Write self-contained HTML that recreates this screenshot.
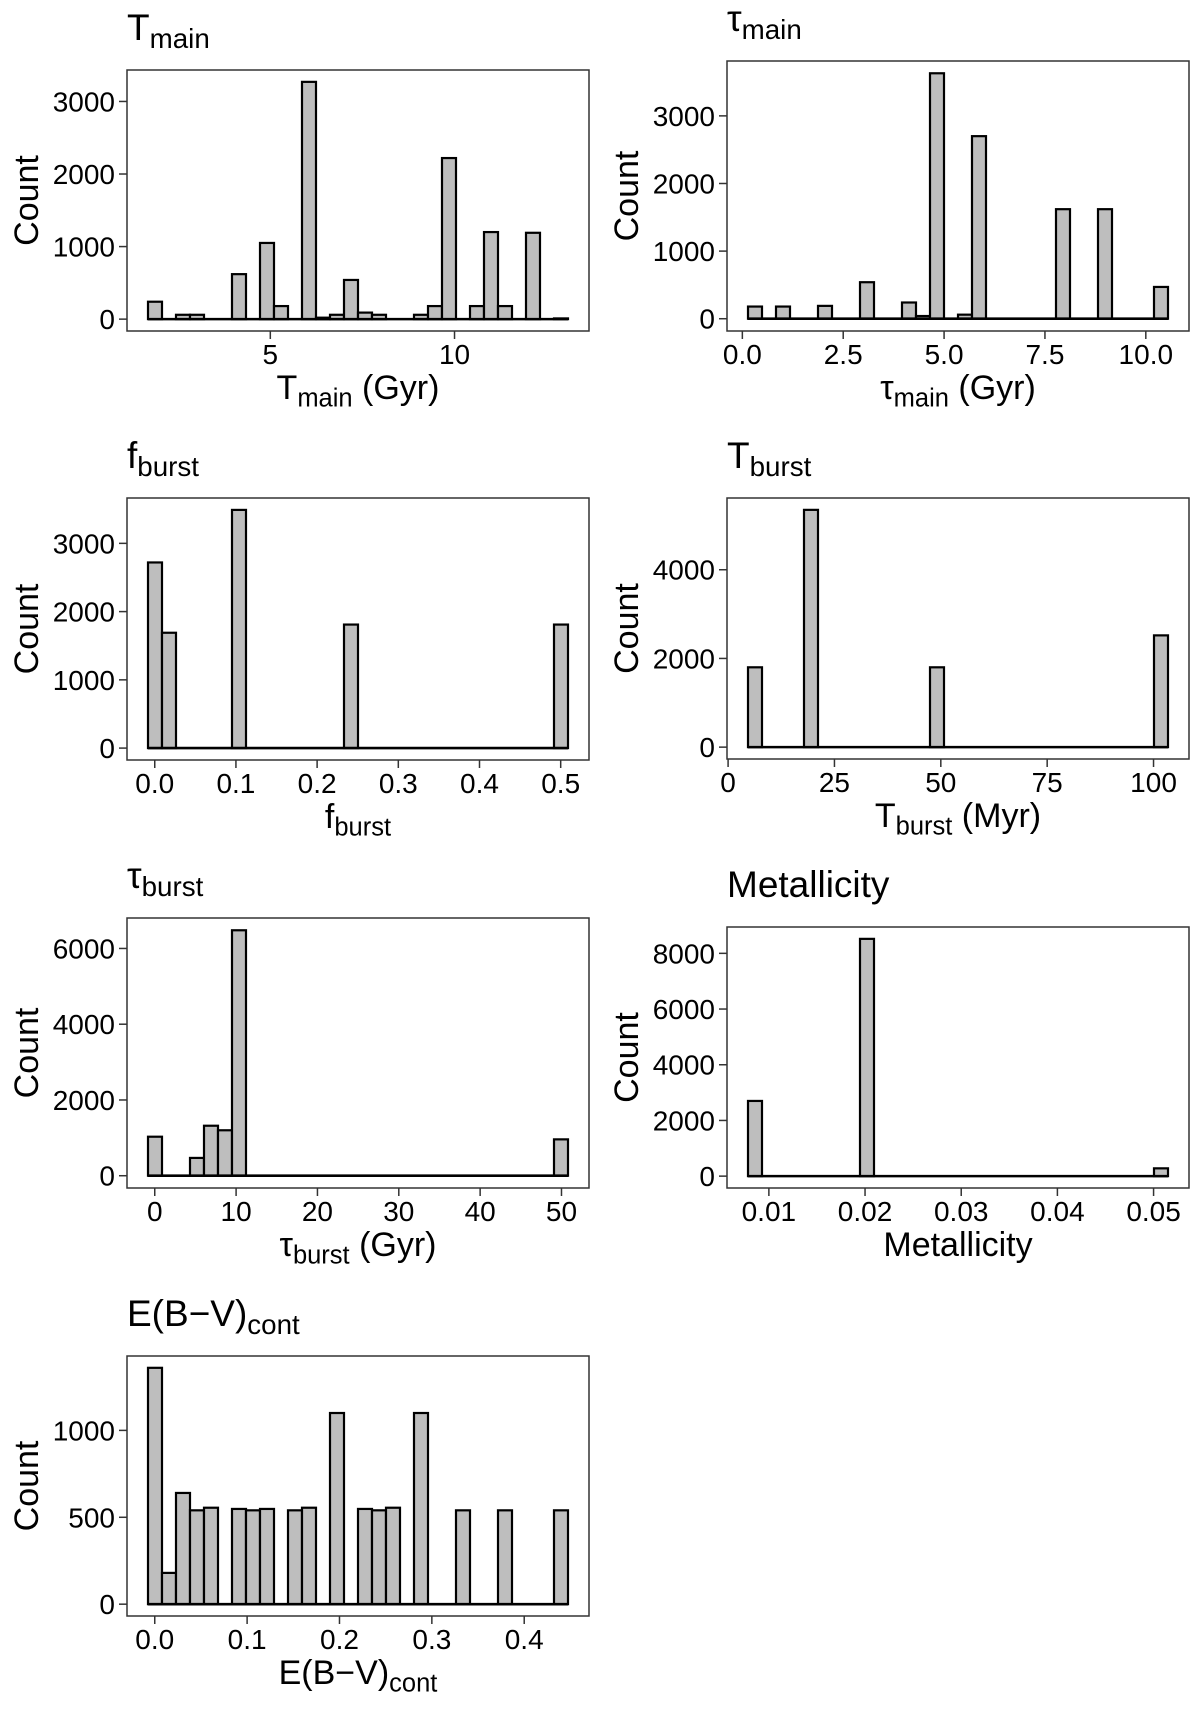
<!DOCTYPE html>
<html><head><meta charset="utf-8"><style>
html,body{margin:0;padding:0;background:#fff;}
svg{display:block;font-family:"Liberation Sans",Arial,sans-serif;}
</style></head><body>
<svg id="fig" width="1200" height="1714" viewBox="0 0 1200 1714" xmlns="http://www.w3.org/2000/svg"></svg>
<script>
// ---- data (30 bins each) ----
const tmainCounts = [240,0,60,60,0,0,620,0,1050,180,0,3270,20,60,540,90,60,0,0,60,180,2220,0,180,1200,180,0,1190,0,10];
const tmainRange = [1.68, 13.08];
const tmainTicks = [5, 10];
const tmainTickLabels = ["5","10"];
const tmainYTicks = [0,1000,2000,3000];

const taumainCounts = [180,0,180,0,0,190,0,0,540,0,0,240,40,3630,0,60,2700,0,0,0,0,0,1620,0,0,1620,0,0,0,470];
const taumainRange = [0.14, 10.55];
const taumainTicks = [0, 2.5, 5, 7.5, 10];
const taumainTickLabels = ["0.0","2.5","5.0","7.5","10.0"];
const taumainYTicks = [0,1000,2000,3000];

const fburstCounts = [2720,1690,0,0,0,0,3490,0,0,0,0,0,0,0,1810,0,0,0,0,0,0,0,0,0,0,0,0,0,0,1810];
const fburstRange = [-0.0083, 0.509];
const fburstTicks = [0,0.1,0.2,0.3,0.4,0.5];
const fburstTickLabels = ["0.0","0.1","0.2","0.3","0.4","0.5"];
const fburstYTicks = [0,1000,2000,3000];

const tburstCounts = [1800,0,0,0,5350,0,0,0,0,0,0,0,0,1800,0,0,0,0,0,0,0,0,0,0,0,0,0,0,0,2520];
const tburstRange = [4.68, 103.4];
const tburstTicks = [0,25,50,75,100];
const tburstTickLabels = ["0","25","50","75","100"];
const tburstYTicks = [0,2000,4000];

const tauburstCounts = [1030,0,0,470,1320,1200,6480,0,0,0,0,0,0,0,0,0,0,0,0,0,0,0,0,0,0,0,0,0,0,960];
const tauburstRange = [-0.83, 50.8];
const tauburstTicks = [0,10,20,30,40,50];
const tauburstTickLabels = ["0","10","20","30","40","50"];
const tauburstYTicks = [0,2000,4000,6000];

const metalCounts = [2700,0,0,0,0,0,0,0,8520,0,0,0,0,0,0,0,0,0,0,0,0,0,0,0,0,0,0,0,0,280];
const metalRange = [0.00783, 0.0515];
const metalTicks = [0.01,0.02,0.03,0.04,0.05];
const metalTickLabels = ["0.01","0.02","0.03","0.04","0.05"];
const metalYTicks = [0,2000,4000,6000,8000];

const ebvCounts = [1360,180,640,540,555,0,548,540,548,0,540,555,0,1100,0,548,540,555,0,1100,0,0,540,0,0,540,0,0,0,540];
const ebvRange = [-0.0073, 0.4474];
const ebvTicks = [0,0.1,0.2,0.3,0.4];
const ebvTickLabels = ["0.0","0.1","0.2","0.3","0.4"];
const ebvYTicks = [0,500,1000];

const NS = "http://www.w3.org/2000/svg";
const svg = document.getElementById('fig');
function mk(tag, attrs, parent){
  const e = document.createElementNS(NS, tag);
  for (const k in attrs) e.setAttribute(k, attrs[k]);
  (parent||svg).appendChild(e);
  return e;
}
function richText(parent, x, y, parts, size, anchor, rotate){
  const t = mk('text', {x:x, y:y, 'font-size':size, 'text-anchor':anchor||'start', fill:'#000'}, parent);
  if (rotate) t.setAttribute('transform', 'rotate(-90 '+x+' '+y+')');
  parts.forEach(p=>{
    const ts = mk('tspan', {}, t);
    if (p.sub){ ts.setAttribute('font-size', size*0.75); ts.setAttribute('dy', size*0.22); }
    else if (p.after){ ts.setAttribute('dy', -size*0.22); }
    ts.textContent = p.t;
  });
  return t;
}

const panels = [
  {name:'t-main', left:127, top:70, bottom:331, counts:tmainCounts, range:tmainRange, ticks:tmainTicks, labels:tmainTickLabels, yticks:tmainYTicks,
   title:[{t:'T'},{t:'main',sub:true}], xtitle:[{t:'T'},{t:'main',sub:true},{t:' (Gyr)',after:true}]},
  {name:'tau-main', left:727, top:61, bottom:331, counts:taumainCounts, range:taumainRange, ticks:taumainTicks, labels:taumainTickLabels, yticks:taumainYTicks,
   title:[{t:'τ'},{t:'main',sub:true}], xtitle:[{t:'τ'},{t:'main',sub:true},{t:' (Gyr)',after:true}]},
  {name:'f-burst', left:127, top:498, bottom:760, counts:fburstCounts, range:fburstRange, ticks:fburstTicks, labels:fburstTickLabels, yticks:fburstYTicks,
   title:[{t:'f'},{t:'burst',sub:true}], xtitle:[{t:'f'},{t:'burst',sub:true}]},
  {name:'t-burst', left:727, top:498, bottom:759, counts:tburstCounts, range:tburstRange, ticks:tburstTicks, labels:tburstTickLabels, yticks:tburstYTicks,
   title:[{t:'T'},{t:'burst',sub:true}], xtitle:[{t:'T'},{t:'burst',sub:true},{t:' (Myr)',after:true}]},
  {name:'tau-burst', left:127, top:918, bottom:1188, counts:tauburstCounts, range:tauburstRange, ticks:tauburstTicks, labels:tauburstTickLabels, yticks:tauburstYTicks,
   title:[{t:'τ'},{t:'burst',sub:true}], xtitle:[{t:'τ'},{t:'burst',sub:true},{t:' (Gyr)',after:true}]},
  {name:'metallicity', left:727, top:927, bottom:1188, counts:metalCounts, range:metalRange, ticks:metalTicks, labels:metalTickLabels, yticks:metalYTicks,
   title:[{t:'Metallicity'}], xtitle:[{t:'Metallicity'}]},
  {name:'ebv-cont', left:127, top:1356, bottom:1616, counts:ebvCounts, range:ebvRange, ticks:ebvTicks, labels:ebvTickLabels, yticks:ebvYTicks,
   title:[{t:'E(B−V)'},{t:'cont',sub:true}], xtitle:[{t:'E(B−V)'},{t:'cont',sub:true}]}
];

panels.forEach(p=>{
  const g = mk('g', {});
  
  
  const W = 462, L = p.left, R = L + W, T = p.top, B = p.bottom;
  const lo = p.range[0], hi = p.range[1], span = hi - lo;
  const x = v => L + (v - (lo - 0.05*span)) / (span*1.1) * W;
  const M = Math.max(...p.counts);
  const y = v => B - (v + 0.05*M) / (M*1.1) * (B - T);
  // title
  const tt = richText(g, L, T - 30, p.title, 37, 'start');
  
  
  // bars
  const n = p.counts.length, bw = span / n;
  const bars = mk('g', {}, g);
  
  
  p.counts.forEach((c,i)=>{
    const x0 = x(lo + i*bw), x1 = x(lo + (i+1)*bw);
    const r = mk('rect', {x:x0, y:y(c), width:x1-x0, height:Math.max(0, y(0)-y(c)), fill:'#bebebe', stroke:'#000', 'stroke-width':2.2}, bars);
    
    
  });
  const base = mk('line', {x1:x(lo), x2:x(hi), y1:y(0), y2:y(0), stroke:'#000', 'stroke-width':2.6}, bars);
  
  
  // frame
  const fr = mk('rect', {x:L, y:T, width:W, height:B-T, fill:'none', stroke:'#333', 'stroke-width':1.5}, g);
  
  
  // y ticks
  p.yticks.forEach(v=>{
    mk('line', {x1:L-8, x2:L, y1:y(v), y2:y(v), stroke:'#333', 'stroke-width':1.5}, g);
    const t = mk('text', {x:L-12, y:y(v)+10, 'font-size':28, 'text-anchor':'end', fill:'#000'}, g);
    
    
    t.textContent = String(v);
  });
  // x ticks
  p.ticks.forEach((v,i)=>{
    mk('line', {x1:x(v), x2:x(v), y1:B, y2:B+8, stroke:'#333', 'stroke-width':1.5}, g);
    const t = mk('text', {x:x(v), y:B+33, 'font-size':28, 'text-anchor':'middle', fill:'#000'}, g);
    
    
    t.textContent = p.labels[i];
  });
  // axis titles
  const xt = richText(g, L + W/2, B + 68, p.xtitle, 34, 'middle');
  
  
  const yt = richText(g, L - 89, (T + B)/2, [{t:'Count'}], 34, 'middle', true);
  
  
});
</script>
</body></html>
